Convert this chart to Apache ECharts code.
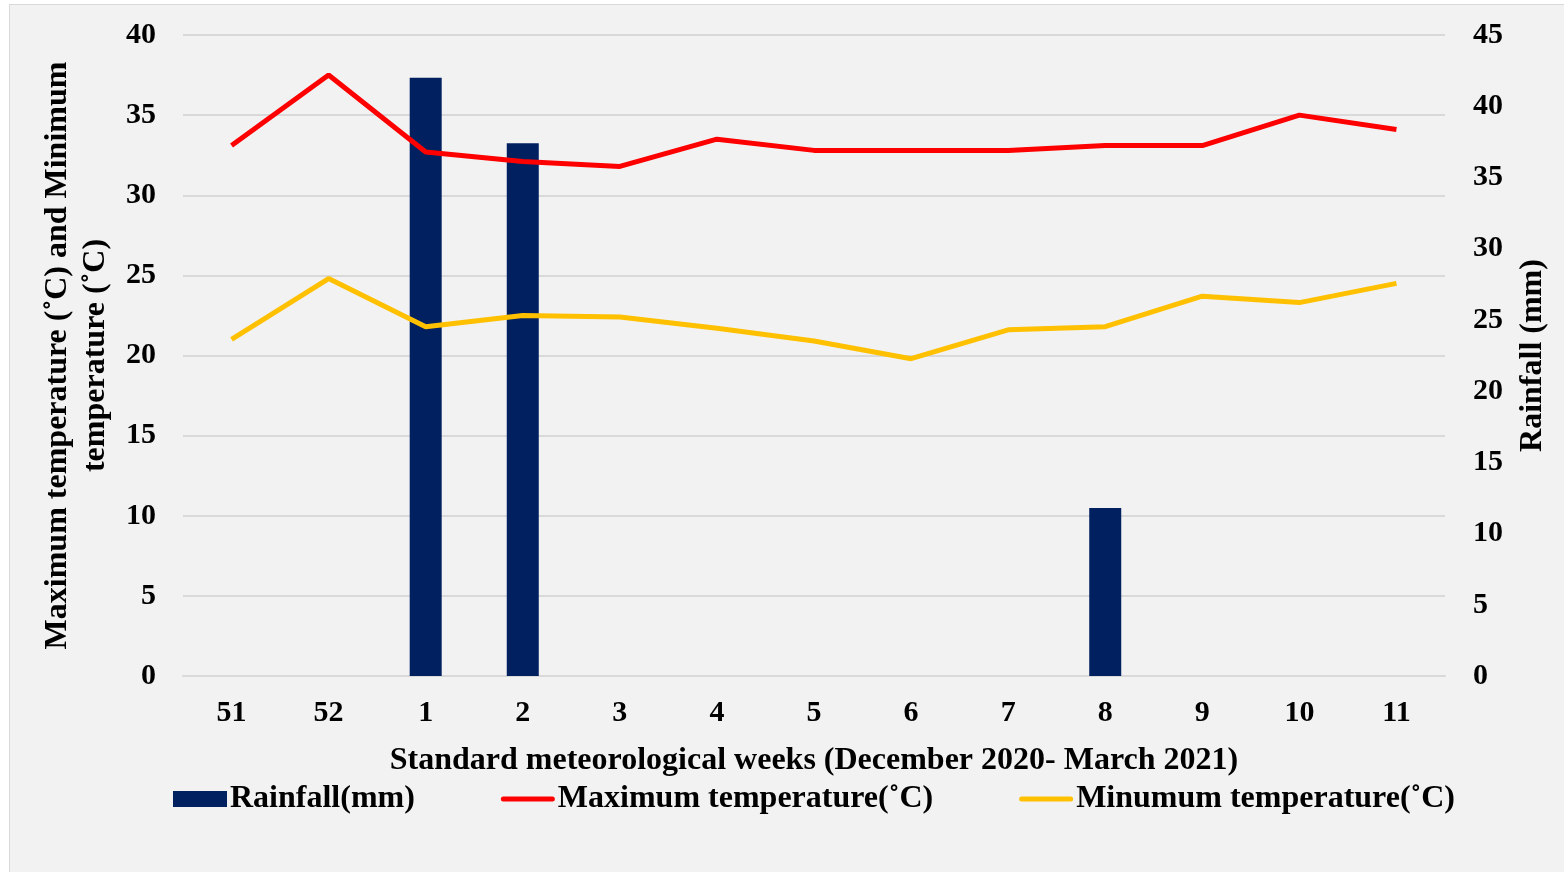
<!DOCTYPE html>
<html>
<head>
<meta charset="utf-8">
<script src="https://cdn.jsdelivr.net/npm/echarts@6/dist/echarts.min.js"></script>
<style>
html,body{margin:0;padding:0;background:#ffffff;width:1564px;height:872px;overflow:hidden;}
#frame{position:absolute;left:9px;top:4px;width:1600px;height:900px;border:1px solid #d9d9d9;background:#f2f2f2;}
#chart{position:absolute;left:0;top:0;width:1564px;height:872px;}
</style>
</head>
<body>
<div id="frame"></div>
<div id="chart"></div>
<script>
const weeks = ['51','52','1','2','3','4','5','6','7','8','9','10','11'];
const rainfall = [0, 0, 42.0, 37.4, 0, 0, 0, 0, 0, 11.8, 0, 0, 0];
const maxTemp = [33.1, 37.5, 32.7, 32.1, 31.8, 33.5, 32.8, 32.8, 32.8, 33.1, 33.1, 35.0, 34.1];
const minTemp = [21.0, 24.8, 21.8, 22.5, 22.4, 21.7, 20.9, 19.8, 21.6, 21.8, 23.7, 23.3, 24.5];
const leftTicks = {min: 0, max: 40, interval: 5};
const rightTicks = {min: 0, max: 45, interval: 5};

const FONT = '"Liberation Serif", "Times New Roman", serif';
const chart = echarts.init(document.getElementById('chart'), null, {renderer: 'canvas'});
const tick = {fontFamily: FONT, fontWeight: 'bold', fontSize: 30, color: '#000'};
const big = {fontFamily: FONT, fontWeight: 'bold', fontSize: 32, color: '#000'};
const lineIcon = 'path://M2.5,0h49a2.5,2.5 0 0 1 0,5h-49a2.5,2.5 0 0 1 0,-5z';
chart.setOption({
  backgroundColor: 'transparent',
  animation: false,
  textStyle: {fontFamily: FONT},
  grid: {left: 183, right: 119, top: 35, bottom: 196},
  legend: {
    left: 168, top: 778, itemGap: 86, itemWidth: 54, itemHeight: 16,
    textStyle: Object.assign({}, big, {padding: [0, 0, 0, -2]}),
    data: [
      {name: 'Rainfall(mm)', icon: 'rect'},
      {name: 'Maximum temperature(˚C)', icon: lineIcon},
      {name: 'Minumum temperature(˚C)', icon: lineIcon}
    ]
  },
  xAxis: {
    type: 'category', data: weeks, boundaryGap: true,
    axisLine: {lineStyle: {color: '#d9d9d9', width: 2}},
    axisTick: {show: false},
    axisLabel: Object.assign({}, tick, {margin: 22}),
    name: 'Standard meteorological weeks (December 2020- March 2021)',
    nameLocation: 'middle', nameGap: 69,
    nameTextStyle: big
  },
  yAxis: [
    {
      type: 'value', min: leftTicks.min, max: leftTicks.max, interval: leftTicks.interval,
      axisLine: {show: false}, axisTick: {show: false},
      splitLine: {lineStyle: {color: '#d9d9d9', width: 2}},
      axisLabel: Object.assign({}, tick, {margin: 27}),
      name: 'Maximum temperature (˚C) and Minimum\ntemperature (˚C)',
      nameLocation: 'middle', nameRotate: 90, nameGap: 64,
      nameTextStyle: Object.assign({}, big, {lineHeight: 38})
    },
    {
      type: 'value', min: rightTicks.min, max: rightTicks.max, interval: rightTicks.interval,
      position: 'right',
      axisLine: {show: false}, axisTick: {show: false},
      splitLine: {show: false},
      axisLabel: Object.assign({}, tick, {margin: 28}),
      name: 'Rainfall (mm)',
      nameLocation: 'middle', nameRotate: 90, nameGap: 72,
      nameTextStyle: big
    }
  ],
  series: [
    {
      name: 'Rainfall(mm)', type: 'bar', yAxisIndex: 1, data: rainfall,
      barWidth: 32,
      itemStyle: {color: '#002060'}
    },
    {
      name: 'Maximum temperature(˚C)', type: 'line', yAxisIndex: 0, data: maxTemp,
      symbol: 'none', lineStyle: {color: '#ff0000', width: 5}, itemStyle: {color: '#ff0000'}
    },
    {
      name: 'Minumum temperature(˚C)', type: 'line', yAxisIndex: 0, data: minTemp,
      symbol: 'none', lineStyle: {color: '#ffc000', width: 5}, itemStyle: {color: '#ffc000'}
    }
  ]
});
</script>
</body>
</html>
